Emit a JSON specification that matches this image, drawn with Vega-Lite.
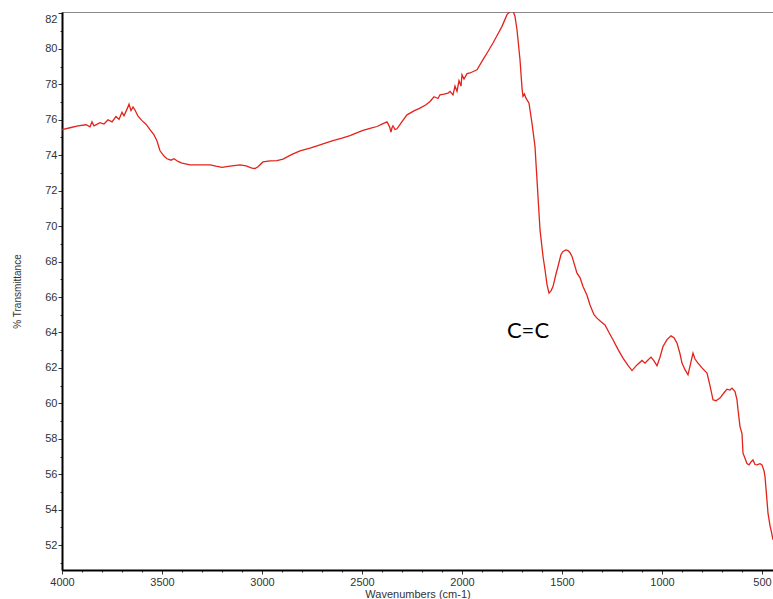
{
  "$schema": "https://vega.github.io/schema/vega-lite/v6.json",
  "width": 711,
  "height": 558,
  "autosize": {"type": "none"},
  "padding": {"left": 62, "top": 12, "right": 0, "bottom": 29},
  "background": "white",
  "config": {"view": {"stroke": "#8a8a8a", "strokeWidth": 1}, "font": "Liberation Sans"},
  "datasets": {
    "spectrum": [
      {"wn": 4000, "t": 75.44}, {"wn": 3960, "t": 75.55}, {"wn": 3920, "t": 75.65}, {"wn": 3880, "t": 75.72},
      {"wn": 3860, "t": 75.6}, {"wn": 3850, "t": 75.88}, {"wn": 3840, "t": 75.66}, {"wn": 3810, "t": 75.84},
      {"wn": 3790, "t": 75.76}, {"wn": 3770, "t": 76.0}, {"wn": 3750, "t": 75.88}, {"wn": 3730, "t": 76.18},
      {"wn": 3715, "t": 76.02}, {"wn": 3700, "t": 76.42}, {"wn": 3690, "t": 76.22}, {"wn": 3675, "t": 76.6},
      {"wn": 3665, "t": 76.88}, {"wn": 3655, "t": 76.52}, {"wn": 3645, "t": 76.72}, {"wn": 3635, "t": 76.55},
      {"wn": 3620, "t": 76.2}, {"wn": 3600, "t": 75.95}, {"wn": 3580, "t": 75.75}, {"wn": 3560, "t": 75.45},
      {"wn": 3540, "t": 75.15}, {"wn": 3525, "t": 74.8}, {"wn": 3510, "t": 74.25}, {"wn": 3490, "t": 73.95},
      {"wn": 3475, "t": 73.8}, {"wn": 3455, "t": 73.72}, {"wn": 3440, "t": 73.8}, {"wn": 3420, "t": 73.65},
      {"wn": 3400, "t": 73.55}, {"wn": 3360, "t": 73.46}, {"wn": 3300, "t": 73.45}, {"wn": 3260, "t": 73.46},
      {"wn": 3230, "t": 73.38}, {"wn": 3200, "t": 73.31}, {"wn": 3160, "t": 73.38}, {"wn": 3110, "t": 73.46},
      {"wn": 3080, "t": 73.4}, {"wn": 3050, "t": 73.27}, {"wn": 3035, "t": 73.25}, {"wn": 3020, "t": 73.35},
      {"wn": 2995, "t": 73.62}, {"wn": 2960, "t": 73.68}, {"wn": 2925, "t": 73.69}, {"wn": 2895, "t": 73.78},
      {"wn": 2850, "t": 74.05}, {"wn": 2810, "t": 74.25}, {"wn": 2760, "t": 74.4}, {"wn": 2725, "t": 74.53},
      {"wn": 2680, "t": 74.7}, {"wn": 2645, "t": 74.83}, {"wn": 2600, "t": 74.97}, {"wn": 2560, "t": 75.11},
      {"wn": 2530, "t": 75.25}, {"wn": 2495, "t": 75.4}, {"wn": 2460, "t": 75.52}, {"wn": 2425, "t": 75.62},
      {"wn": 2400, "t": 75.75}, {"wn": 2375, "t": 75.88}, {"wn": 2362, "t": 75.6}, {"wn": 2355, "t": 75.3},
      {"wn": 2350, "t": 75.55}, {"wn": 2345, "t": 75.66}, {"wn": 2335, "t": 75.45}, {"wn": 2325, "t": 75.49},
      {"wn": 2300, "t": 75.9}, {"wn": 2275, "t": 76.28}, {"wn": 2240, "t": 76.5}, {"wn": 2210, "t": 76.66},
      {"wn": 2180, "t": 76.85}, {"wn": 2160, "t": 77.03}, {"wn": 2140, "t": 77.3}, {"wn": 2120, "t": 77.2},
      {"wn": 2110, "t": 77.41}, {"wn": 2090, "t": 77.45}, {"wn": 2070, "t": 77.5}, {"wn": 2060, "t": 77.6},
      {"wn": 2045, "t": 77.4}, {"wn": 2035, "t": 77.9}, {"wn": 2025, "t": 77.6}, {"wn": 2015, "t": 78.2},
      {"wn": 2005, "t": 77.9}, {"wn": 2000, "t": 78.54}, {"wn": 1990, "t": 78.3}, {"wn": 1975, "t": 78.6},
      {"wn": 1960, "t": 78.64}, {"wn": 1925, "t": 78.82}, {"wn": 1895, "t": 79.39}, {"wn": 1870, "t": 79.85},
      {"wn": 1845, "t": 80.33}, {"wn": 1820, "t": 80.85}, {"wn": 1800, "t": 81.27}, {"wn": 1775, "t": 81.93},
      {"wn": 1760, "t": 82.1}, {"wn": 1745, "t": 82.15}, {"wn": 1735, "t": 81.83}, {"wn": 1725, "t": 81.08},
      {"wn": 1710, "t": 79.39}, {"wn": 1700, "t": 77.8}, {"wn": 1695, "t": 77.32}, {"wn": 1688, "t": 77.45},
      {"wn": 1680, "t": 77.22}, {"wn": 1665, "t": 76.94}, {"wn": 1650, "t": 75.8}, {"wn": 1635, "t": 74.49},
      {"wn": 1625, "t": 72.6}, {"wn": 1610, "t": 69.8}, {"wn": 1595, "t": 68.3}, {"wn": 1585, "t": 67.54},
      {"wn": 1575, "t": 66.7}, {"wn": 1565, "t": 66.22}, {"wn": 1555, "t": 66.35}, {"wn": 1545, "t": 66.59},
      {"wn": 1530, "t": 67.3}, {"wn": 1520, "t": 67.72}, {"wn": 1505, "t": 68.4}, {"wn": 1495, "t": 68.57},
      {"wn": 1480, "t": 68.66}, {"wn": 1470, "t": 68.62}, {"wn": 1460, "t": 68.5}, {"wn": 1450, "t": 68.29},
      {"wn": 1425, "t": 67.35}, {"wn": 1410, "t": 67.1}, {"wn": 1395, "t": 66.59}, {"wn": 1375, "t": 66.1},
      {"wn": 1360, "t": 65.55}, {"wn": 1340, "t": 65.0}, {"wn": 1325, "t": 64.81}, {"wn": 1305, "t": 64.6},
      {"wn": 1285, "t": 64.43}, {"wn": 1265, "t": 64.0}, {"wn": 1245, "t": 63.59}, {"wn": 1220, "t": 63.05},
      {"wn": 1195, "t": 62.55}, {"wn": 1170, "t": 62.15}, {"wn": 1150, "t": 61.85}, {"wn": 1125, "t": 62.17},
      {"wn": 1100, "t": 62.42}, {"wn": 1085, "t": 62.27}, {"wn": 1070, "t": 62.45}, {"wn": 1055, "t": 62.61},
      {"wn": 1040, "t": 62.4}, {"wn": 1025, "t": 62.12}, {"wn": 1010, "t": 62.6}, {"wn": 995, "t": 63.21},
      {"wn": 975, "t": 63.6}, {"wn": 955, "t": 63.81}, {"wn": 940, "t": 63.7}, {"wn": 925, "t": 63.4},
      {"wn": 910, "t": 62.8}, {"wn": 900, "t": 62.27}, {"wn": 885, "t": 61.9}, {"wn": 870, "t": 61.61},
      {"wn": 858, "t": 62.2}, {"wn": 845, "t": 62.84}, {"wn": 835, "t": 62.5}, {"wn": 820, "t": 62.27},
      {"wn": 800, "t": 62.0}, {"wn": 775, "t": 61.71}, {"wn": 760, "t": 61.0}, {"wn": 745, "t": 60.2},
      {"wn": 730, "t": 60.15}, {"wn": 710, "t": 60.3}, {"wn": 690, "t": 60.6}, {"wn": 675, "t": 60.8},
      {"wn": 660, "t": 60.75}, {"wn": 650, "t": 60.86}, {"wn": 635, "t": 60.67}, {"wn": 625, "t": 60.2},
      {"wn": 620, "t": 59.64}, {"wn": 610, "t": 58.69}, {"wn": 600, "t": 58.3}, {"wn": 595, "t": 57.19},
      {"wn": 585, "t": 56.9}, {"wn": 575, "t": 56.6}, {"wn": 565, "t": 56.53}, {"wn": 555, "t": 56.7},
      {"wn": 545, "t": 56.81}, {"wn": 535, "t": 56.55}, {"wn": 525, "t": 56.53}, {"wn": 510, "t": 56.6},
      {"wn": 500, "t": 56.53}, {"wn": 490, "t": 56.2}, {"wn": 485, "t": 55.87}, {"wn": 475, "t": 54.5},
      {"wn": 470, "t": 53.81}, {"wn": 460, "t": 53.1}, {"wn": 455, "t": 52.86}, {"wn": 445, "t": 52.3}
    ],
    "notes": [{"label": "C=C", "wn": 1670, "t": 64.1}]
  },
  "encoding": {
    "x": {
      "field": "wn", "type": "quantitative",
      "scale": {"domain": [4000, 445], "nice": false, "zero": false},
      "axis": {
        "title": "Wavenumbers (cm-1)",
        "titleFont": "Liberation Sans", "titleFontSize": 11, "titleFontWeight": "normal", "titleColor": "#333333",
        "titleY": 24, "titleBaseline": "middle",
        "values": [4000,3900,3800,3700,3600,3500,3400,3300,3200,3100,3000,2900,2800,2700,2600,2500,2400,2300,2200,2100,2000,1900,1800,1700,1600,1500,1400,1300,1200,1100,1000,900,800,700,600,500],
        "labelExpr": "datum.value % 500 === 0 ? datum.label : ''",
        "format": "d",
        "labelOverlap": false,
        "labelFlush": false,
        "labelFont": "Liberation Sans", "labelFontSize": 11, "labelColor": "#333333", "labelPadding": 2,
        "domainColor": "#000000", "domainWidth": 2,
        "tickColor": "#333333", "tickWidth": 1,
        "tickSize": {"condition": {"test": "datum.value % 500 === 0", "value": 4}, "value": 2},
        "grid": false
      }
    },
    "y": {
      "field": "t", "type": "quantitative",
      "scale": {"domain": [50.6, 82.08], "nice": false, "zero": false},
      "axis": {
        "title": "% Transmittance",
        "titleFont": "Liberation Sans", "titleFontSize": 10, "titleFontWeight": "normal", "titleColor": "#333333",
        "titleX": -45, "titleY": 279, "titleAngle": -90, "titleAlign": "center", "titleBaseline": "middle",
        "values": [51,51.5,52,52.5,53,53.5,54,54.5,55,55.5,56,56.5,57,57.5,58,58.5,59,59.5,60,60.5,61,61.5,62,62.5,63,63.5,64,64.5,65,65.5,66,66.5,67,67.5,68,68.5,69,69.5,70,70.5,71,71.5,72,72.5,73,73.5,74,74.5,75,75.5,76,76.5,77,77.5,78,78.5,79,79.5,80,80.5,81,81.5,82],
        "labelExpr": "datum.value % 2 === 0 ? datum.label : ''",
        "format": "d",
        "labelOverlap": false,
        "labelFlush": 2,
        "labelFont": "Liberation Sans", "labelFontSize": 11, "labelColor": "#333333", "labelPadding": 1,
        "domainColor": "#000000", "domainWidth": 2,
        "tickColor": "#333333", "tickWidth": 1,
        "tickSize": {"condition": {"test": "datum.value % 2 === 0", "value": 4}, "value": 2},
        "grid": false
      }
    }
  },
  "layer": [
    {
      "data": {"name": "spectrum"},
      "mark": {"type": "line", "color": "#e2231a", "strokeWidth": 1.3, "clip": true}
    },
    {
      "data": {"name": "notes"},
      "mark": {"type": "text", "font": "Lato", "fontSize": 22, "color": "#000000", "align": "center", "baseline": "middle"},
      "encoding": {
        "text": {"field": "label"}
      }
    }
  ]
}
